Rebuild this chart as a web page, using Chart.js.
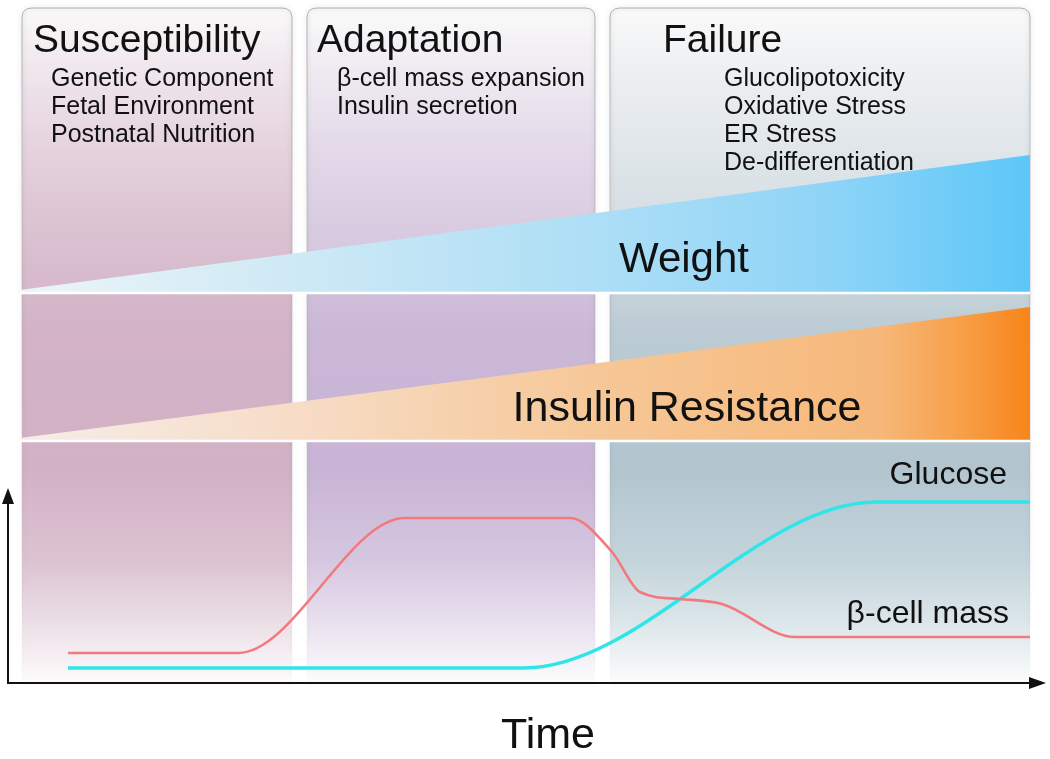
<!DOCTYPE html>
<html>
<head>
<meta charset="utf-8">
<script src="https://cdn.jsdelivr.net/npm/chart.js@4/dist/chart.umd.min.js"></script>
<style>
  html, body { margin: 0; padding: 0; background: #fff; }
  canvas { display: block; }
</style>
</head>
<body>
<canvas id="stageChart" width="1050" height="759"></canvas>
<script>
// stages of beta-cell decline - schematic, time runs left to right
const stageNames = ['Susceptibility', 'Adaptation', 'Failure'];
const stageStart = [22, 307, 610];
const stageEnd = [292, 595, 1030];
const stageItems = [
  ['Genetic Component', 'Fetal Environment', 'Postnatal Nutrition'],
  ['β-cell mass expansion', 'Insulin secretion'],
  ['Glucolipotoxicity', 'Oxidative Stress', 'ER Stress', 'De-differentiation'],
];

// wedges: value at start / end of the time span
const wedgeX = [20, 1030];
const weightTop = [290, 155];
const weightBase = [293, 293];
const insulinTop = [438, 307];
const insulinBase = [441, 441];

// curves (y grows downward)
const betaX = [68, 238, 405, 570, 612, 640, 680, 722, 795, 1030];
const betaY = [653, 653, 518, 518, 552, 592, 599, 604, 637, 637];
const glucoseX = [68, 524, 876, 1030];
const glucoseY = [668, 668, 502, 502];

const FONT = '"Liberation Sans", Arial, Helvetica, sans-serif';

const stageColors = [
  ['#fafafa', '#f1e9ee', '#e5d2dd', '#d9bfcf', '#d3b3c7', '#d2b1c5', '#dcc3d2', '#ebdde5', '#ffffff'],
  ['#fafafa', '#f1edf3', '#e3d9e9', '#d6c8df', '#cbb8d7', '#c8b4d5', '#d6c7e0', '#e8dfee', '#ffffff'],
  ['#fafafa', '#eff1f3', '#e0e6ea', '#d0dbe1', '#bccbd4', '#b2c5cf', '#c4d4db', '#dbe5e9', '#ffffff'],
];
const stageStops = [0, 0.076, 0.208, 0.355, 0.472, 0.677, 0.81, 0.897, 1];

const pts = (xs, ys) => xs.map((x, i) => ({ x, y: ys[i] }));

function hGradient(chart, stops) {
  const { ctx, scales } = chart;
  if (!chart.chartArea) return null;
  const x0 = scales.x.getPixelForValue(wedgeX[0]);
  const x1 = scales.x.getPixelForValue(wedgeX[1]);
  const g = ctx.createLinearGradient(x0, 0, x1, 0);
  stops.forEach(([o, c]) => g.addColorStop(o, c));
  return g;
}

const weightFill = (c) =>
  hGradient(c.chart, [[0, '#edf5f8'], [0.28, '#cde9f5'], [0.58, '#acdef6'], [0.8, '#8fd4f7'], [1, '#5cc7f8']]);
const insulinFill = (c) =>
  hGradient(c.chart, [[0, '#f6ede9'], [0.28, '#f7dcc6'], [0.58, '#f6c796'], [0.85, '#f6b87a'], [0.93, '#f7a04a'], [1, '#f7851a']]);

function stagePath(ctx, l, r, top, bottom, rad, close) {
  ctx.beginPath();
  ctx.moveTo(l, bottom);
  ctx.lineTo(l, top + rad);
  ctx.quadraticCurveTo(l, top, l + rad, top);
  ctx.lineTo(r - rad, top);
  ctx.quadraticCurveTo(r, top, r, top + rad);
  ctx.lineTo(r, bottom);
  if (close) ctx.closePath();
}

const stagePlugin = {
  id: 'stages',
  beforeDatasetsDraw(chart) {
    const { ctx, scales } = chart;
    const xs = scales.x, ys = scales.y;
    const top = ys.getPixelForValue(8);
    const bottom = ys.getPixelForValue(690);
    stageNames.forEach((_, i) => {
      const l = xs.getPixelForValue(stageStart[i]);
      const r = xs.getPixelForValue(stageEnd[i]);
      const g = ctx.createLinearGradient(0, top, 0, bottom);
      stageStops.forEach((s, k) => g.addColorStop(s, stageColors[i][k]));
      ctx.save();
      stagePath(ctx, l, r, top, bottom, 10, true);
      ctx.fillStyle = g;
      ctx.fill();
      // soft edge, fading out toward the bottom
      const eg = ctx.createLinearGradient(0, top, 0, bottom);
      eg.addColorStop(0, 'rgba(160,160,160,0.8)');
      eg.addColorStop(0.7, 'rgba(180,180,180,0.4)');
      eg.addColorStop(1, 'rgba(200,200,200,0)');
      stagePath(ctx, l, r, top, bottom, 10, false);
      ctx.strokeStyle = eg;
      ctx.lineWidth = 1;
      ctx.shadowColor = 'rgba(0,0,0,0.3)';
      ctx.shadowBlur = 5;
      ctx.stroke();
      ctx.restore();
    });
  },
  afterDatasetsDraw(chart) {
    const { ctx, scales } = chart;
    const xs = scales.x, ys = scales.y;
    const px = (v) => xs.getPixelForValue(v);
    const py = (v) => ys.getPixelForValue(v);
    const text = (t, x, y, size, align = 'left') => {
      ctx.font = `${size}px ${FONT}`;
      ctx.textAlign = align;
      ctx.textBaseline = 'alphabetic';
      ctx.fillText(t, px(x), py(y));
    };
    ctx.save();
    ctx.fillStyle = '#111';
    // stage titles and bullet text
    const titleX = [33, 317, 663];
    const itemX = [51, 337, 724];
    stageNames.forEach((name, i) => {
      text(name, titleX[i], 52, 39);
      stageItems[i].forEach((it, k) => text(it, itemX[i], 86 + k * 28, 25));
    });
    text('Weight', 684, 272, 42, 'center');
    text('Insulin Resistance', 687, 421, 43, 'center');
    text('Glucose', 1007, 484, 32, 'right');
    text('β-cell mass', 1009, 623, 32, 'right');
    text('Time', 548, 748, 43, 'center');

    // axes with arrow heads
    const ox = px(8), oy = py(683);
    const yTop = py(488), xEnd = px(1046);
    ctx.strokeStyle = '#111';
    ctx.lineWidth = 2;
    ctx.beginPath();
    ctx.moveTo(ox, yTop + 12);
    ctx.lineTo(ox, oy);
    ctx.lineTo(xEnd - 14, oy);
    ctx.stroke();
    ctx.beginPath();
    ctx.moveTo(ox, yTop);
    ctx.lineTo(ox - 6, yTop + 16);
    ctx.lineTo(ox + 6, yTop + 16);
    ctx.closePath();
    ctx.fill();
    ctx.beginPath();
    ctx.moveTo(xEnd, oy);
    ctx.lineTo(xEnd - 17, oy - 6);
    ctx.lineTo(xEnd - 17, oy + 6);
    ctx.closePath();
    ctx.fill();
    ctx.restore();
  },
};

const edge = { pointRadius: 0, borderWidth: 0, tension: 0 };

new Chart(document.getElementById('stageChart'), {
  type: 'line',
  data: {
    datasets: [
      {
        label: 'β-cell mass',
        data: pts(betaX, betaY),
        borderColor: '#f07a7e',
        borderWidth: 2.6,
        pointRadius: 0,
        cubicInterpolationMode: 'monotone',
        fill: false,
        order: -2,
      },
      {
        label: 'Glucose',
        data: pts(glucoseX, glucoseY),
        borderColor: '#2ee5e8',
        borderWidth: 3.4,
        pointRadius: 0,
        cubicInterpolationMode: 'monotone',
        fill: false,
        order: -2,
      },
      { label: 'Weight', data: pts(wedgeX, weightTop), ...edge, fill: '+1', backgroundColor: weightFill },
      { label: 'weight base', data: pts(wedgeX, weightBase), ...edge, borderWidth: 2.5, borderColor: '#ffffff', fill: false, order: -1 },
      { label: 'Insulin Resistance', data: pts(wedgeX, insulinTop), ...edge, fill: '+1', backgroundColor: insulinFill },
      { label: 'insulin base', data: pts(wedgeX, insulinBase), ...edge, borderWidth: 2.5, borderColor: '#ffffff', fill: false, order: -1 },
    ],
  },
  options: {
    responsive: false,
    animation: false,
    devicePixelRatio: 1,
    layout: { padding: 0 },
    scales: {
      x: { type: 'linear', min: 0, max: 1050, display: false },
      y: { type: 'linear', min: 0, max: 759, reverse: true, display: false },
    },
    plugins: {
      legend: { display: false },
      tooltip: { enabled: false },
      filler: { propagate: false },
    },
  },
  plugins: [stagePlugin],
});
</script>
</body>
</html>
